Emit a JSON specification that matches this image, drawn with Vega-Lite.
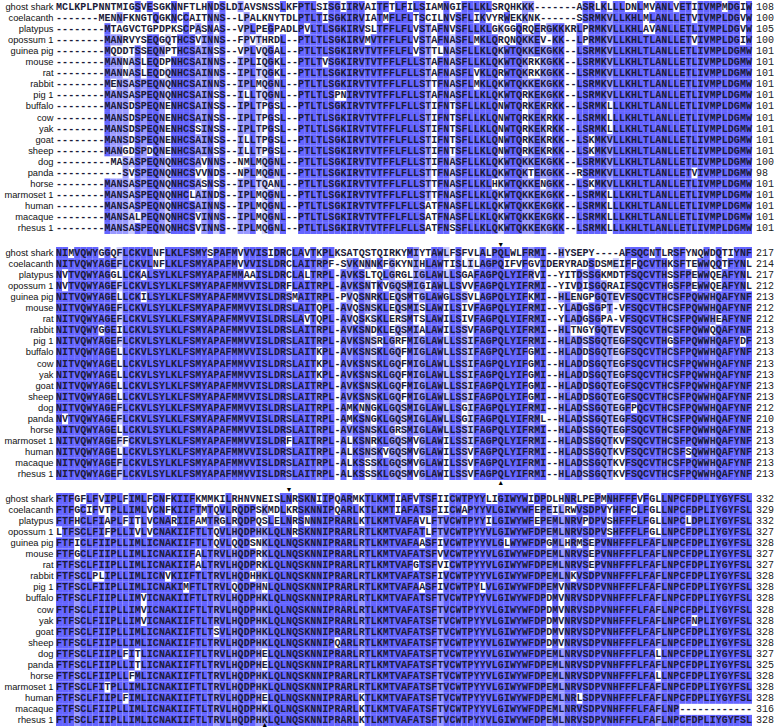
{
  "$schema": "https://vega.github.io/schema/vega-lite/v6.json",
  "padding": {"left": 3, "top": 1, "right": 0, "bottom": 0},
  "spacing": 13,
  "bounds": "flush",
  "background": "white",
  "config": {"view": {"stroke": null}, "axis": {"labelFont": "Liberation Sans"}},
  "datasets": {
    "seqs": [
      {"b": 1, "sp": "ghost shark", "n": 108, "s": "MCLKPLPNNTMIGSVESGKNNFTLHNDSLDIAVSNSSLKFPTLSISGIIRVAITFTLFILSIAMNGIFLLKLSRQHKKK-------ASRLKLLLDNLMVANLVETIIVMPMDGIW"},
      {"b": 1, "sp": "coelacanth", "n": 100, "s": "-------MENNFKNGTQGKNCCAITNNS--LPALKNYTDLPTLTISGKIRVIATMFLFLTSCILNVSFLIKVYRWEKKNK------SSRMKVLLKHLMLANLLETVIVMPLDGVW"},
      {"b": 1, "sp": "platypus", "n": 105, "s": "--------MTAGVCTGPDPKSCPASNAS--VPLPEGPADLPVLTLSGKIRVSLTFFLFLVSTAFNVSFLLKLGKGGQRQERGKKKRLPRMKVLLKHLAVANLLETLIVMPLDGVW"},
      {"b": 1, "sp": "opossum 1", "n": 100, "s": "--------MANRVYSEQGQTHCSVINNS--FPVTHRDL--PTLTLSGKIRVMVTFFLFLVSTAFNASFLMKLQRQNQKKEV-KK--LPRMKVLLKHLTLANLLETVIVMPLDGIW"},
      {"b": 1, "sp": "guinea pig", "n": 101, "s": "--------MQDDTSSEQNPTHCSAINSS--VPLVQGAL--PTLTLSGKIRVTVTFFLFLVSTTLNASFLLKLQKWTQKKEKGKK--LSRMKVLLKHLTLANLLETLIVMPLDGMW"},
      {"b": 1, "sp": "mouse", "n": 101, "s": "--------MANNASLEQDPNHCSAINNS--IPLIQGKL--PTLTVSGKIRVTVTFFLFLLSTAFNASFLLKLQKWTQKRKKGKK--LSRMKVLLKHLTLANLLETLIVMPLDGMW"},
      {"b": 1, "sp": "rat", "n": 101, "s": "--------MANNASLEQDQNHCSAINNS--IPLTQGKL--PTLTLSGKIRVTVTFFLFLLSTAFNASFLVKLQRWTQKRKKGKK--LSRMKVLLKHLTLANLLETLIVMPLDGMW"},
      {"b": 1, "sp": "rabbit", "n": 101, "s": "--------MENSASPEQNQNHCSAINNS--IPLMQGNL--PTLTLSGKIRVTVTFFLFLLSTTFNASFLMKLQKWTQKKEKGKK--LSRMKVLLKHLTLANLLETLIVMPLDGMW"},
      {"b": 1, "sp": "pig 1", "n": 101, "s": "--------MANSASPEQNQNHCSAINSS--ILLTQGNL--PTLTLSPNIRVTVTFFLFLLSTAFNASFLLKLQKWTQRKEKGKK--LSRMKVLLKHLTLANLLETLIVMPLDGMW"},
      {"b": 1, "sp": "buffalo", "n": 101, "s": "--------MANSDSPEQNENHCSAINSS--IPLTPGSL--PTLTLSGKIRVTVTFFLFLLSTIFNTSFLLKLQNWTQRKEKRKK--LSRMKLLLKHLTLANLLETLIVMPLDGMW"},
      {"b": 1, "sp": "cow", "n": 101, "s": "--------MANSDSPEQNENHCSAINSS--IPLTPGSL--PTLTLSGKIRVTVTFFLFLLSTIFNTSFLLKLQNWTQRKEKRKK--LSRMKLLLKHLTLANLLETLIVMPLDGMW"},
      {"b": 1, "sp": "yak", "n": 101, "s": "--------MANSDSPEQNENHCSSINSS--IPLTPGSL--PTLTLSGKIRVTVTFFLFLLSTIFNTSFLLKLQNWTQRKEKRKK--LSRMKLLLKHLTLANLLETLIVMPLDGMW"},
      {"b": 1, "sp": "goat", "n": 101, "s": "--------MANSDSPEQNENHCSAINSS--ILLTPGSL--PTLTLSGKIRVTVTFFLFLLSTIFNTSFLLKLQNWTQRKEKRKK--LSKMKVLLKHLTLANLLETLIVMPLDGMW"},
      {"b": 1, "sp": "sheep", "n": 101, "s": "--------MANGDSPDQNENHCSAINSS--ILLTPGSL--PTLTLSGKIRVTVTFFLFLLSTIFNTSFLLKLQNWTQRKEKRKK--LSKMKVLLKHLTLANLLETLIVMPLDGMW"},
      {"b": 1, "sp": "dog", "n": 100, "s": "---------MASASPEQNQNHCSAVNNS--NMLMQGNL--PTLTLSGKIRVTVTFFLFLLSTIFNASFLLKLQKWTQKKEKGKK--LSRMKVLLKHLTLANLLETLIVMPLDGMW"},
      {"b": 1, "sp": "panda", "n": 98, "s": "-----------SVSPEQNQNHCSVVNDS--NPLMQGNL--PTLTLSGKIRVTVTFFLFLLSTTFNASFLLKLQKWTQKTEKGKK--RSRMKVLLKHLTLANLLETVIVMPLDGMW"},
      {"b": 1, "sp": "horse", "n": 101, "s": "--------MANSASPEQNQNHCSASNSS--IPLTQANL--PTLTLSGKIRVTVTFFLFLLSTTFNASFLLKLHKWTQKKENGKK--LSKMKVLLKHLTLANLLETLIVMPLDGMW"},
      {"b": 1, "sp": "marmoset 1", "n": 101, "s": "--------MANSASPEQNQNHCLAINDS--IPLMQGNL--PTLTLSGKIRVTVTFFLFLLSTTFNASFLLKLQKWTQKKEKGKK--LSRMKLLLKHLTLANLLETLIVMPLDGMW"},
      {"b": 1, "sp": "human", "n": 101, "s": "--------MANSASPEQNQNHCSAINNS--IPLMQGNL--PTLTLSGKIRVTVTFFLFLLSATFNASFLLKLQKWTQKKEKGKK--LSRMKLLLKHLTLANLLETLIVMPLDGMW"},
      {"b": 1, "sp": "macaque", "n": 101, "s": "--------MANSALPEQNQNHCSVINNS--IPLMQGNL--PTLTLSGKIRVTVTFFLFLLSATFNASFLLKLQKWTQKKEKGKK--LSRMKLLLKHLTLANLLETLIVMPLDGMW"},
      {"b": 1, "sp": "rhesus 1", "n": 101, "s": "--------MANSASPEQNQNHCSVINNS--IPLMQGNL--PTLTLSGKIRVTVTFFLFLLSATFNSSFLLKLQKWTQKKEKGKK--LSRMKLLLKHLTLANLLETLIVMPLDGMW"},

      {"b": 2, "sp": "ghost shark", "n": 217, "s": "NIMVQWYGGQFLCKVLNFLKLFSMYSPAFMVVVISIDRCLAVTKPLKSATQSTQIRKYMIYTAWLFSFVLALPQLWLFRMI--HYSEPY----AFSQCNTLRSFYNQWDQTIYNF"},
      {"b": 2, "sp": "coelacanth", "n": 214, "s": "NITVQWYAGEFLCKVLNFLKLFSMYAPAFMVVVISLDRCLAITRPF-SVKNNNKFGKYNIHLAWTISLILAGPQIFVFGVIDERYRADSDSMEIFFQCVTHKSFTEWWQQTFYNL"},
      {"b": 2, "sp": "platypus", "n": 217, "s": "NVTVQWYAGGLLCKALSYLKLFSMYAPAFMMAAISLDRCLALTRPL-AVKSLTQLGRGLIGLAWLLSGAFAGPQLYIFRVI--YITDSSGKMDTFSQCVTHSSFPEWWQEAFYNL"},
      {"b": 2, "sp": "opossum 1", "n": 212, "s": "NVTVQWYAGEFLCKVLSYLKLFSMYAPAFMMVVISLDRFLAITRPL-AVKSNTKVGQSMIGIAWLLSVVFAGPQLYIFRMI--YIVDISGQRAIFSQCVTHGSFPEWWQEAFYNL"},
      {"b": 2, "sp": "guinea pig", "n": 213, "s": "NITVQWYAGELLCKILSYLKLFSMYAPAFMMVVISLDRSMAITRPL-PVQSNRKLEQSMTGLAWGLSSVLAGPQLYIFKMI--HLENGPGQTEVFSQCVTHCSFPQWWHQAFYNF"},
      {"b": 2, "sp": "mouse", "n": 212, "s": "NITVQWYAGEFLCKVLSYLKLFSMYAPAFMMVVISLDRSLAITQPL-AVQSNSKLEQSMISLAWILSIVFAGPQLYIFRMI--YLADGSGPT-VFSQCVTHCSFPQWWHQAFYNF"},
      {"b": 2, "sp": "rat", "n": 212, "s": "NITVQWYAGEFLCKVLSYLKLFSMYAPAFMMVVISLDRSLAVTQPL-AVQSKSKLERSMTSLAWILSIVFAGPQLYIFRMI--YLADGSGPA-VFSQCVTHCSFPQWWHEAFYNF"},
      {"b": 2, "sp": "rabbit", "n": 213, "s": "NITVQWYGGEILCKVLSYLKLFSMYAPAFMMVVISLDRSLAITRPL-AVKSNDKLEQSMIALAWILSSVFAGPQLYIFRMI--HLTNGYGQTEVFSQCVTHCSFPQWWQQAFYNF"},
      {"b": 2, "sp": "pig 1", "n": 213, "s": "NITVQWYAGEFLCKVLSYLKLFSMYAPAFMMVVISLDRSLAITRPL-AVKSNSRLGRFMIGLAWLLSSIFAGPQLYIFRMI--HLADSSGQTEGFSQCVTHGSFPQWWHQAFYDF"},
      {"b": 2, "sp": "buffalo", "n": 213, "s": "NITVQWYAGELLCKVLSYLKLFSMYAPAFMMVVISLDRSLAITKPL-AVKSNSKLGQFMIGLAWLLSSIFAGPQLYIFGMI--HLADDSGQTEGFSQCVTHCSFPQWWHQAFYNF"},
      {"b": 2, "sp": "cow", "n": 213, "s": "NITVQWYAGELLCKVLSYLKLFSMYAPAFMMVVISLDRSLAITKPL-AVKSNSKLGQFMIGLAWLLSSIFAGPQLYIFGMI--HLADDSGQTEGFSQCVTHCSFPQWWHQAFYNF"},
      {"b": 2, "sp": "yak", "n": 213, "s": "NITVQWYAGELLCKVLSYLKLFSMYAPAFMMVVISLDRSLAITKPL-AVKSNSKLGQFMIGLAWLLSSIFAGPQLYIFGMI--HLADDSGQTEGFSQCVTHCSFPQWWHQAFYNF"},
      {"b": 2, "sp": "goat", "n": 213, "s": "NITVQWYAGELLCKVLSYLKLFSMYAPAFMMVVISLDRSLAITRPL-AVKSNSKLGQFMIGLAWLLSSIFAGPQLYIFGMI--HLADDSGQTEGFSQCVTHCSFPQWWHQAFYNF"},
      {"b": 2, "sp": "sheep", "n": 213, "s": "NITVQWYAGELLCKVLSYLKLFSMYAPAFMMVVISLDRSLAITRPL-AVKSNSKLGQFMIGLAWLLSSIFAGPQLYIFGMI--HLADDSGQTEGFSQCVTHCSFPQWWHQAFYNF"},
      {"b": 2, "sp": "dog", "n": 212, "s": "NITVQWYAGEFLCKVLSYLKLFSMYAPAFMMVVISLDRSLAITRPL-AMKNNGKLGQSMIGLAWLLSGIFAGPQLYIFRMI--HLADSSGQTEGFPQCVTHCSFPQWWHQAFYNF"},
      {"b": 2, "sp": "panda", "n": 210, "s": "NVTVQWYAGEFLCKVLSYLKLFSMYAPAFMMVVISLDRSLAITRPL-AMKSNGKLGQSMIGLAWLLSGIFAGPQLYIFRML--HLADSSGQTEGFSQCVTHCSFPQWWHQAFYNF"},
      {"b": 2, "sp": "horse", "n": 213, "s": "NITVQWYAGELLCKVLSYLKLFSMYAPAFMMVVISLDRSLAITRPL-AVKSNSKLGRSMIGLAWLLSSIFAGPQLYIFRMI--HLADSSGQTEGFSQCVTHCSFPQWWHQAFYNF"},
      {"b": 2, "sp": "marmoset 1", "n": 213, "s": "NITVQWYAGEFFCKVLSYLKLFSMYAPAFMMVVISLDRFLAITRPL-ALKSNRKLGQSMVGLAWILSSIFAGPQLYIFRMI--HLADSSGQTKVFSQCVTHCSFPQWWHQAFYNF"},
      {"b": 2, "sp": "human", "n": 213, "s": "NITVQWYAGELLCKVLSYLKLFSMYAPAFMMVVISLDRSLAITRPL-ALKSNSKVGQSMVGLAWILSSVFAGPQLYIFRMI--HLADSSGQTKVFSQCVTHCSFSQWWHQAFYNF"},
      {"b": 2, "sp": "macaque", "n": 213, "s": "NITVQWYAGEFLCKVLSYLKLFSMYAPAFMMVVISLDRSLAITRPL-ALKSSSKLGQSMVGLAWILSSVFAGPQLYIFRMI--HLADSSGQTKVFSQCVTHCSFPQWWHQAFYNF"},
      {"b": 2, "sp": "rhesus 1", "n": 213, "s": "NITVQWYAGEFLCKVLSYLKLFSMYAPAFMMVVISLDRSLAITRPL-ALKSSSKLGQSMVGLAWILSSVFAGPQLYIFRMI--HLADSSGQTKVFSQCVTHCSFPQWWHQAFYNF"},

      {"b": 3, "sp": "ghost shark", "n": 332, "s": "FTFGFLFVIPLFIMLFCNFKIIFKMMKILRHNVNEISLNRSKNIIPQARMKTLKMTIAFVTSFIICWTPYYLIGIWYWIDPDLHNRLPEPMNHFFFVFGLLNPCFDPLIYGYFSL"},
      {"b": 3, "sp": "coelacanth", "n": 329, "s": "FTFGCIFVTPLLIMLVCNFKIIFTMTQVLRQDPSKMDLKRSKNNIPQARLKTLKMTIAFATSFIICWAPYYVLGIWYWFEPEILRWVSDPVYHFFCLFGLLNPCFDPLIYGYFSL"},
      {"b": 3, "sp": "platypus", "n": 332, "s": "FTFHCLFIAPLFITLVCNARIIFAMTRGLRQDPQSLELNRSNNNIPRARLKTLKMTVAFAVLFTVCWTPYYILGIWYWFEPEMLNRVPDPVSHFFFLFGLLNPCLDPLIYGYFSL"},
      {"b": 3, "sp": "opossum 1", "n": 327, "s": "LTFSCLFIFPLLIVLVCNAKIIFTLTQVLHQDPHKLQLNRSKNNIPRARLRTLKMTVAFATLFTVCWTPYYVLGIWYWFDPEMLNRVSDPVSHFFFLFGLLNPCFDPLIYGYFSL"},
      {"b": 3, "sp": "guinea pig", "n": 328, "s": "FTFICLFIIPLLIMLICNAKIIFTLTQVLQQDSNKLQLNQSKNNIPRARLRTLKMTVAFAASFIVCWTPYYVLGLWYWFDPGMLHRMSEPVNHFFFLFAFLNPCFDPLIYGYFSL"},
      {"b": 3, "sp": "mouse", "n": 327, "s": "FTFGCLFIIPLLIMLICNAKIIFALTRVLHQDPRKLQLNQSKNNIPRARLRTLKMTVAFATSFVVCWTPYYVLGIWYWFDPEMLNRVSEPVNHFFFLFAFLNPCFDPLIYGYFSL"},
      {"b": 3, "sp": "rat", "n": 327, "s": "FTFSCLFIIPLLIMLICNAKIIFALTRVLHQDPRKLQLNQSKNNIPRARLRTLKMTVAFGTSFVICWTPYYVLGIWYWFDPEMLNRVSEPVNHFFFLFAFLNPCFDPLIYGYFSL"},
      {"b": 3, "sp": "rabbit", "n": 328, "s": "FTFSCLPLIPLLIMLICNVKIIFTLTRVLHQDHHKLQLNQSKNNIPRARLRTLKMTVAFATSFIVCWTPYYVLGIWYWFDPEMLNKVSDPVNHFFFLFAFLNPCFDPLIYGYFSL"},
      {"b": 3, "sp": "pig 1", "n": 328, "s": "FTFSCLFIIPLLIMLICNAKIMFTLTRVLQQDPHNLQLNQSKNNIPRARLRTLKMTVAFAASFIVCWTPYLVLGIWYWFDPEMVNRVSDPVNHFFFLFAFLNPCFDPLIYGYFSL"},
      {"b": 3, "sp": "buffalo", "n": 328, "s": "FTFSCLFIIPLLIMVICNAKIIFTLTRVLHQDPHKLQLNQSKNNIPRARLRTLKMTVAFATSFTVCWTPYYVLGIWYWFDPDMVNRVSDPVNHFFFLFAFLNPCFDPLIYGYFSL"},
      {"b": 3, "sp": "cow", "n": 328, "s": "FTFSCLFIIPLLIMVICNAKIIFTLTRVLHQDPHKLQLNQSKNNIPRARLRTLKMTVAFATSFTVCWTPYYVLGIWYWFDPDMVNRVSDPVNHFFFLFAFLNPCFDPLIYGYFSL"},
      {"b": 3, "sp": "yak", "n": 328, "s": "FTFSCLFIIPLLIMVICNAKIIFTLTRVLHQDPHKLQLNQSKNNIPRARLRTLKMTVAFATSFTVCWTPYYVLGIWYWFDPDMVNRVSDPVNHFFFLFAFLNPCFNPLIYGYFSL"},
      {"b": 3, "sp": "goat", "n": 328, "s": "FTFSCLFIIPLLIMLICNAKIIFTLTSVLHQDPHKLQLNQSKNNIPRARLRTLKMTVAFATSFTVCWTPYYVLGIWYWFDPDMVNRVSDPVNHFFFLFAFLNPCFDPLIYGYFSL"},
      {"b": 3, "sp": "sheep", "n": 328, "s": "FTFSCLFIIPLLIMLICNAKIIFTLTRVLHQDPHKLQLNQSKNNIPQARLRTLKMTVAFATSFTVCWTPYYVLGIWYWFDPDMVNRVSDPVNHFFFLFAFLNPCFDPLIYGYFSL"},
      {"b": 3, "sp": "dog", "n": 327, "s": "FTFSCLFIIPLFITLICNAKIIFTLTRVLHQDPHELQLNQSKNNIPRARLRTLKMTVAFATSFTVCWTPYYVLGIWYWFDPEMLNRVSDPVNHFFFLFALLNPCFDPLIYGYFSL"},
      {"b": 3, "sp": "panda", "n": 325, "s": "FTFSCLFIIPLLITLICNAKIIFTLTRVLHQDPHELQLNQSKNNIPRARLRTLKMTVAFATSFTVCWTPYYVLGIWYWFDPEMLNRVSDPVNHFFFLFAFLNPCFDPLIYGYFSL"},
      {"b": 3, "sp": "horse", "n": 328, "s": "FTFSCLFIIPLLFMLICNAKIIFTLTRVLHQDPHKLQLNQSKNNIPRARLRTLKMTVAFATSFTVCWTPYYVLGIWYWFDPEMLNRVSDPVNHFFFLFALLNPCFDPLIYGYFSL"},
      {"b": 3, "sp": "marmoset 1", "n": 328, "s": "FTFSCLFITPLLIMLICNAKIIFTLTRVLHQDPHKLQLNQSKNNIPRARLRTLKMTVAFATSFTVCWTPYYVLGIWYWFDPEMLNRVSDPVNHFFFLFAFLNPCFDPLIYGYFSL"},
      {"b": 3, "sp": "human", "n": 328, "s": "FTFSCLFIIPLFIMLICNAKIIFTLTRVLHQDPHELQLNQSKNNIPRARLKTLKMTVAFATSFTVCWTPYYVLGIWYWFDPEMLNRLSDPVNHFFFLFAFLNPCFDPLIYGYFSL"},
      {"b": 3, "sp": "macaque", "n": 316, "s": "FTFSCLFIIPLLIMLICNAKIIFTLTRVLHQDPHKLQLNQSKNNIPRARLKTLKMTVAFATSFTVCWTPYYVLGIWYWFDPEMLNRVSDPVNHFFFLFAFLNP------------"},
      {"b": 3, "sp": "rhesus 1", "n": 328, "s": "FTFSCLFIIPLLIMLICNAKIIFTLTRVLHQDPHKLQLNQSKNNIPRARLKTLKMTVAFATSFTVCWTPYYVLGIWYWFDPEMLNRVSDPVNHFFFLFAFLNPCFDPLIYGYFSL"}
    ],
    "marks": [
      {"b": 2, "col": 74, "sp": "ghost shark", "pos": "top"},
      {"b": 2, "col": 74, "sp": "rhesus 1", "pos": "bottom"},
      {"b": 3, "col": 39, "sp": "ghost shark", "pos": "top"},
      {"b": 3, "col": 35, "sp": "rhesus 1", "pos": "bottom"}
    ]
  },
  "vconcat": [
    {
      "width": 696, "height": 233,
      "layer": [
        {
          "data": {"name": "seqs"},
          "transform": [
            {"filter": "datum.b == 1"},
            {"calculate": "split(datum.s, '')", "as": "ch"},
            {"flatten": ["ch"]},
            {"window": [{"op": "row_number", "as": "col"}], "groupby": ["sp"]},
            {"joinaggregate": [{"op": "count", "as": "cnt"}], "groupby": ["col", "ch"]},
            {"calculate": "datum.ch == '-' ? 0 : datum.cnt", "as": "ng"},
            {"joinaggregate": [{"op": "max", "field": "ng", "as": "mx"}], "groupby": ["col"]},
            {"calculate": "(datum.ch != '-' && datum.cnt == datum.mx) ? (datum.mx / 21 > 0.8 ? 'hi' : (datum.mx / 21 > 0.6 ? 'mid' : (datum.mx / 21 > 0.4 ? 'lo' : 'none'))) : 'none'", "as": "lvl"}
          ],
          "encoding": {
            "x": {"field": "col", "type": "ordinal", "axis": null, "scale": {"paddingInner": 0, "paddingOuter": 0}},
            "y": {"field": "sp", "type": "nominal", "sort": ["ghost shark","coelacanth","platypus","opossum 1","guinea pig","mouse","rat","rabbit","pig 1","buffalo","cow","yak","goat","sheep","dog","panda","horse","marmoset 1","human","macaque","rhesus 1"], "scale": {"paddingInner": 0, "paddingOuter": 0}, "axis": {"title": null, "domain": false, "ticks": false, "labelPadding": 3, "labelFontSize": 9.3, "labelColor": "#111111", "minExtent": 52, "maxExtent": 52}}
          },
          "layer": [
            {"transform": [{"filter": "datum.lvl != 'none'"}], "mark": {"type": "rect"}, "encoding": {"color": {"field": "lvl", "type": "nominal", "legend": null, "scale": {"domain": ["hi", "mid", "lo"], "range": ["#6464ff", "#9999ff", "#ccccff"]}}}},
            {"mark": {"type": "text", "font": "Liberation Mono", "fontSize": 10, "fontWeight": "bold", "baseline": "middle", "fill": "#1b1b38"}, "encoding": {"text": {"field": "ch"}}},
            {"transform": [{"filter": "datum.col == 115"}], "mark": {"type": "text", "font": "Liberation Mono", "fontSize": 10, "align": "left", "baseline": "middle", "dx": 7, "fill": "#222222"}, "encoding": {"text": {"field": "n"}}}
          ]
        }
      ]
    },
    {
      "width": 696, "height": 233,
      "layer": [
        {
          "data": {"name": "seqs"},
          "transform": [
            {"filter": "datum.b == 2"},
            {"calculate": "split(datum.s, '')", "as": "ch"},
            {"flatten": ["ch"]},
            {"window": [{"op": "row_number", "as": "col"}], "groupby": ["sp"]},
            {"joinaggregate": [{"op": "count", "as": "cnt"}], "groupby": ["col", "ch"]},
            {"calculate": "datum.ch == '-' ? 0 : datum.cnt", "as": "ng"},
            {"joinaggregate": [{"op": "max", "field": "ng", "as": "mx"}], "groupby": ["col"]},
            {"calculate": "(datum.ch != '-' && datum.cnt == datum.mx) ? (datum.mx / 21 > 0.8 ? 'hi' : (datum.mx / 21 > 0.6 ? 'mid' : (datum.mx / 21 > 0.4 ? 'lo' : 'none'))) : 'none'", "as": "lvl"}
          ],
          "encoding": {
            "x": {"field": "col", "type": "ordinal", "axis": null, "scale": {"paddingInner": 0, "paddingOuter": 0}},
            "y": {"field": "sp", "type": "nominal", "sort": ["ghost shark","coelacanth","platypus","opossum 1","guinea pig","mouse","rat","rabbit","pig 1","buffalo","cow","yak","goat","sheep","dog","panda","horse","marmoset 1","human","macaque","rhesus 1"], "scale": {"paddingInner": 0, "paddingOuter": 0}, "axis": {"title": null, "domain": false, "ticks": false, "labelPadding": 3, "labelFontSize": 9.3, "labelColor": "#111111", "minExtent": 52, "maxExtent": 52}}
          },
          "layer": [
            {"transform": [{"filter": "datum.lvl != 'none'"}], "mark": {"type": "rect"}, "encoding": {"color": {"field": "lvl", "type": "nominal", "legend": null, "scale": {"domain": ["hi", "mid", "lo"], "range": ["#6464ff", "#9999ff", "#ccccff"]}}}},
            {"mark": {"type": "text", "font": "Liberation Mono", "fontSize": 10, "fontWeight": "bold", "baseline": "middle", "fill": "#1b1b38"}, "encoding": {"text": {"field": "ch"}}},
            {"transform": [{"filter": "datum.col == 115"}], "mark": {"type": "text", "font": "Liberation Mono", "fontSize": 10, "align": "left", "baseline": "middle", "dx": 7, "fill": "#222222"}, "encoding": {"text": {"field": "n"}}}
          ]
        },
        {
          "data": {"name": "marks"},
          "transform": [{"filter": "datum.b == 2"}],
          "encoding": {
            "x": {"field": "col", "type": "ordinal"},
            "y": {"field": "sp", "type": "nominal", "sort": ["ghost shark","coelacanth","platypus","opossum 1","guinea pig","mouse","rat","rabbit","pig 1","buffalo","cow","yak","goat","sheep","dog","panda","horse","marmoset 1","human","macaque","rhesus 1"]}
          },
          "layer": [
            {"transform": [{"filter": "datum.pos == 'top'"}], "mark": {"type": "text", "text": "▼", "fontSize": 7, "dy": -8, "baseline": "middle", "fill": "#000000"}},
            {"transform": [{"filter": "datum.pos == 'bottom'"}], "mark": {"type": "text", "text": "▲", "fontSize": 7, "dy": 9, "baseline": "middle", "fill": "#000000"}}
          ]
        }
      ]
    },
    {
      "width": 696, "height": 233,
      "layer": [
        {
          "data": {"name": "seqs"},
          "transform": [
            {"filter": "datum.b == 3"},
            {"calculate": "split(datum.s, '')", "as": "ch"},
            {"flatten": ["ch"]},
            {"window": [{"op": "row_number", "as": "col"}], "groupby": ["sp"]},
            {"joinaggregate": [{"op": "count", "as": "cnt"}], "groupby": ["col", "ch"]},
            {"calculate": "datum.ch == '-' ? 0 : datum.cnt", "as": "ng"},
            {"joinaggregate": [{"op": "max", "field": "ng", "as": "mx"}], "groupby": ["col"]},
            {"calculate": "(datum.ch != '-' && datum.cnt == datum.mx) ? (datum.mx / 21 > 0.8 ? 'hi' : (datum.mx / 21 > 0.6 ? 'mid' : (datum.mx / 21 > 0.4 ? 'lo' : 'none'))) : 'none'", "as": "lvl"}
          ],
          "encoding": {
            "x": {"field": "col", "type": "ordinal", "axis": null, "scale": {"paddingInner": 0, "paddingOuter": 0}},
            "y": {"field": "sp", "type": "nominal", "sort": ["ghost shark","coelacanth","platypus","opossum 1","guinea pig","mouse","rat","rabbit","pig 1","buffalo","cow","yak","goat","sheep","dog","panda","horse","marmoset 1","human","macaque","rhesus 1"], "scale": {"paddingInner": 0, "paddingOuter": 0}, "axis": {"title": null, "domain": false, "ticks": false, "labelPadding": 3, "labelFontSize": 9.3, "labelColor": "#111111", "minExtent": 52, "maxExtent": 52}}
          },
          "layer": [
            {"transform": [{"filter": "datum.lvl != 'none'"}], "mark": {"type": "rect"}, "encoding": {"color": {"field": "lvl", "type": "nominal", "legend": null, "scale": {"domain": ["hi", "mid", "lo"], "range": ["#6464ff", "#9999ff", "#ccccff"]}}}},
            {"mark": {"type": "text", "font": "Liberation Mono", "fontSize": 10, "fontWeight": "bold", "baseline": "middle", "fill": "#1b1b38"}, "encoding": {"text": {"field": "ch"}}},
            {"transform": [{"filter": "datum.col == 115"}], "mark": {"type": "text", "font": "Liberation Mono", "fontSize": 10, "align": "left", "baseline": "middle", "dx": 7, "fill": "#222222"}, "encoding": {"text": {"field": "n"}}}
          ]
        },
        {
          "data": {"name": "marks"},
          "transform": [{"filter": "datum.b == 3"}],
          "encoding": {
            "x": {"field": "col", "type": "ordinal"},
            "y": {"field": "sp", "type": "nominal", "sort": ["ghost shark","coelacanth","platypus","opossum 1","guinea pig","mouse","rat","rabbit","pig 1","buffalo","cow","yak","goat","sheep","dog","panda","horse","marmoset 1","human","macaque","rhesus 1"]}
          },
          "layer": [
            {"transform": [{"filter": "datum.pos == 'top'"}], "mark": {"type": "text", "text": "▼", "fontSize": 7, "dy": -9, "baseline": "middle", "fill": "#000000"}},
            {"transform": [{"filter": "datum.pos == 'bottom'"}], "mark": {"type": "text", "text": "▲", "fontSize": 7, "dy": 5, "baseline": "middle", "fill": "#000000"}}
          ]
        }
      ]
    }
  ]
}
